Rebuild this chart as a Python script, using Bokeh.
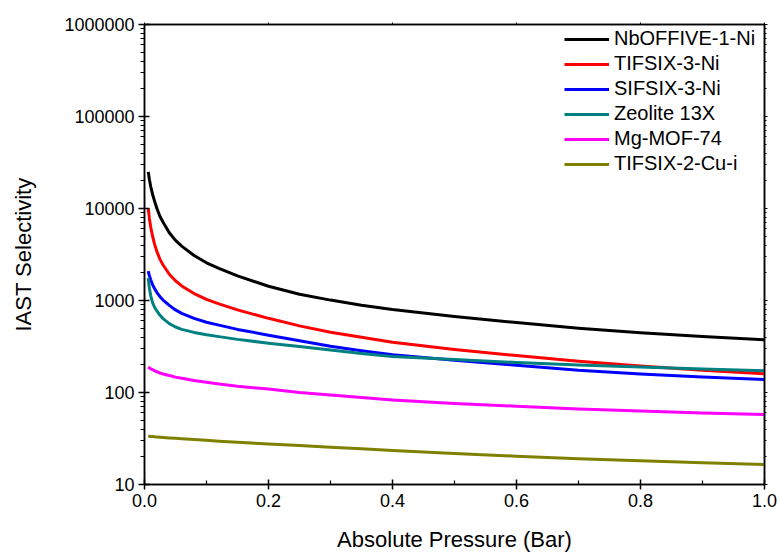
from bokeh.plotting import figure
from bokeh.models import (Range1d, FixedTicker, PrintfTickFormatter, LinearAxis, LogAxis,
                          CustomJSTickFormatter, Legend, LegendItem)
from bokeh.embed import file_html
from bokeh.resources import INLINE

# ---- data ----
pressure = [0.006, 0.008, 0.010, 0.013, 0.016, 0.02, 0.025, 0.03, 0.04, 0.05, 0.06, 0.08, 0.1,
            0.12, 0.15, 0.2, 0.25, 0.3, 0.35, 0.4, 0.5, 0.6, 0.7, 0.8, 0.9, 1.0]

nboffive = [25000, 20500, 17300, 14300, 12200, 10000, 8200, 7100, 5450, 4500, 3900, 3080, 2570,
            2230, 1850, 1430, 1170, 1010, 890, 800, 670, 575, 500, 447, 406, 374]
tifsix3 = [10000, 7700, 6300, 5000, 4150, 3400, 2800, 2430, 1930, 1640, 1440, 1190, 1030,
           920, 790, 640, 530, 452, 398, 352, 293, 252, 218, 194, 175, 160]
sifsix3 = [2080, 1850, 1680, 1490, 1360, 1220, 1100, 1010, 885, 790, 725, 640, 580,
           540, 485, 420, 365, 318, 284, 258, 224, 198, 174, 159, 147, 138]
zeolite = [1750, 1350, 1130, 950, 850, 770, 690, 635, 560, 515, 485, 450, 425,
           405, 378, 344, 316, 290, 266, 246, 228, 212, 199, 189, 180, 172]
mgmof = [189, 185, 181, 177, 173, 168, 163, 159, 153, 147, 143, 135, 129,
         124, 117, 109, 100, 94, 88, 83, 76, 71, 66, 63, 60, 57.8]
tifsix2 = [33.5, 33.4, 33.3, 33.2, 33.0, 32.9, 32.7, 32.5, 32.1, 31.8, 31.4, 30.8, 30.2,
           29.6, 28.8, 27.6, 26.5, 25.4, 24.4, 23.4, 21.7, 20.3, 19.1, 18.1, 17.2, 16.5]

series_names = ["NbOFFIVE-1-Ni", "TIFSIX-3-Ni", "SIFSIX-3-Ni", "Zeolite 13X", "Mg-MOF-74", "TIFSIX-2-Cu-i"]
series_values = [nboffive, tifsix3, sifsix3, zeolite, mgmof, tifsix2]
series_colors = ["#000000", "#FF0000", "#0000FF", "#008080", "#FF00FF", "#808000"]

x_ticks = [0.0, 0.2, 0.4, 0.6, 0.8, 1.0]
x_minor = [0.1, 0.3, 0.5, 0.7, 0.9]
y_ticks = [10, 100, 1000, 10000, 100000, 1000000]
y_minor = [m * d for d in [10, 100, 1000, 10000, 100000] for m in range(2, 10)]

FONT = "Liberation Sans"

p = figure(width=779, height=552, output_backend="svg", toolbar_location=None,
           y_axis_type="log", x_range=Range1d(0, 1), y_range=Range1d(10, 1000000),
           min_border_left=144, min_border_right=14, min_border_top=24, min_border_bottom=67)
p.frame_width = 620
p.frame_height = 460
p.xgrid.visible = False
p.ygrid.visible = False
p.outline_line_color = "black"
p.outline_line_width = 1.5
p.background_fill_color = "white"
p.border_fill_color = "white"

items = []
for name, vals, col in zip(series_names, series_values, series_colors):
    r = p.line(pressure, vals, line_color=col, line_width=3, line_join="round")
    items.append(LegendItem(label=name, renderers=[r]))

# bottom axis
xa = p.xaxis[0]
xa.ticker = FixedTicker(ticks=x_ticks, minor_ticks=x_minor)
xa.formatter = PrintfTickFormatter(format="%.1f")
xa.axis_label = "Absolute Pressure (Bar)"
# left axis
ya = p.yaxis[0]
ya.ticker = FixedTicker(ticks=y_ticks, minor_ticks=y_minor)
ya.formatter = PrintfTickFormatter(format="%d")
ya.axis_label = "IAST Selectivity"

for ax in (xa, ya):
    ax.axis_line_width = 1.5
    ax.major_tick_line_width = 1.5
    ax.minor_tick_line_width = 1.2
    ax.major_label_text_font = FONT
    ax.major_label_text_font_size = "18px"
    ax.major_label_text_color = "black"
    ax.axis_label_text_font = FONT
    ax.axis_label_text_font_size = "22px"
    ax.axis_label_text_font_style = "normal"
    ax.axis_label_text_color = "black"

xa.major_tick_in = 5
xa.major_tick_out = 5
xa.minor_tick_in = 4
xa.minor_tick_out = 0
xa.major_label_standoff = 4
xa.axis_label_standoff = 17

ya.major_tick_in = 5
ya.major_tick_out = 6
ya.minor_tick_in = 0
ya.minor_tick_out = 4
ya.major_label_standoff = 4
ya.axis_label_standoff = 25

blank = CustomJSTickFormatter(code="return ''")
top = LinearAxis(ticker=FixedTicker(ticks=x_ticks, minor_ticks=[]), formatter=blank,
                 major_tick_in=0, major_tick_out=2, minor_tick_out=0, axis_line_width=1.5,
                 major_label_standoff=0)
right = LogAxis(ticker=FixedTicker(ticks=y_ticks, minor_ticks=y_minor), formatter=blank,
                major_tick_in=0, major_tick_out=3, minor_tick_in=0, minor_tick_out=2,
                axis_line_width=1.5, major_label_standoff=0)
p.add_layout(top, "above")
p.add_layout(right, "right")

legend = Legend(items=items, location=(420, 309), border_line_color=None,
                background_fill_alpha=0, padding=0, margin=0, spacing=2,
                glyph_width=45, glyph_height=22, label_height=22, label_standoff=5,
                label_text_font=FONT, label_text_font_size="20px", label_text_color="black")
p.add_layout(legend, "center")

open("out.html", "w").write(file_html(p, INLINE))
